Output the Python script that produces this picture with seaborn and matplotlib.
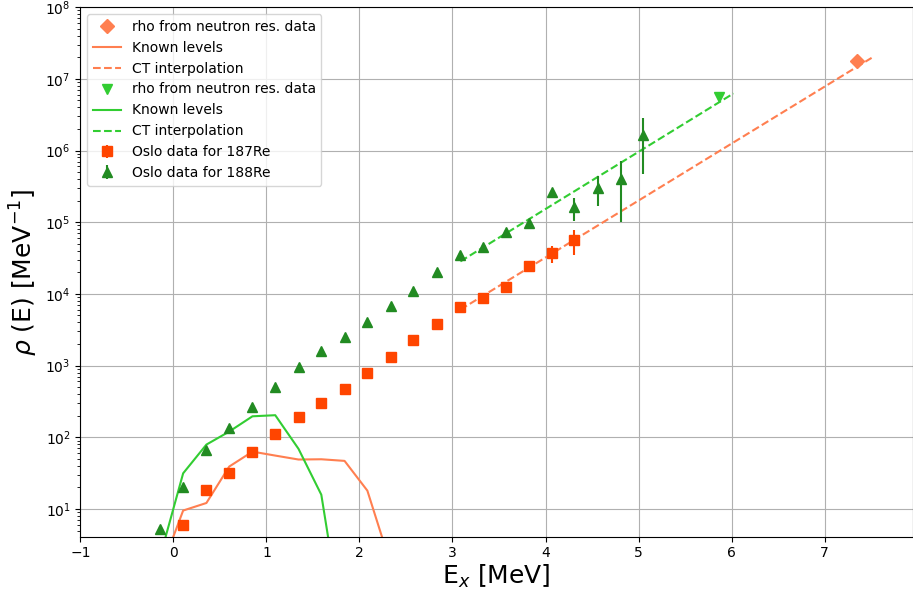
import numpy as np
import matplotlib
matplotlib.use("Agg")
import matplotlib.pyplot as plt
import seaborn as sns
import pandas as pd

# ---------------- data ----------------
# Oslo data 187Re
ex187 = [0.105, 0.355, 0.60, 0.85, 1.095, 1.345, 1.59, 1.84, 2.085, 2.335, 2.58, 2.83,
         3.08, 3.33, 3.575, 3.82, 4.07, 4.31]
rho187 = [6.0, 18.4, 32.1, 63, 111, 190, 296, 474, 776, 1300, 2290, 3840,
          6480, 8650, 12300, 24200, 36800, 55800]
err187 = [0.6, 1.6, 2.5, 4.5, 7, 11, 16, 25, 40, 70, 120, 200,
          350, 500, 800, 2000, 9500, 21000]

# Oslo data 188Re
ex188 = [-0.145, 0.105, 0.355, 0.60, 0.85, 1.095, 1.345, 1.59, 1.84, 2.085, 2.335,
         2.58, 2.83, 3.08, 3.33, 3.575, 3.82, 4.07, 4.31, 4.56, 4.81, 5.05]
rho188 = [5.26, 20.0, 66.7, 135, 268, 499, 946, 1590, 2490, 3990, 6680,
          10900, 19900, 35200, 45100, 72300, 97600, 264000, 163000, 304000, 406000, 1640000]
err188 = [0.5, 1.5, 4, 7, 12, 20, 35, 60, 100, 160, 280,
          450, 900, 1800, 2500, 4500, 7000, 20000, 58000, 135000, 305000, 1170000]

# Known levels
lev_x = [-0.145, 0.105, 0.355, 0.60, 0.85, 1.095, 1.345, 1.59, 1.84, 2.085, 2.335]
lev187 = [1.3, 9.5, 12.1, 39, 63, 55.5, 48.9, 49.3, 46.8, 18, 1.7]
lev188 = [2.1, 31.4, 79, 120, 196, 203, 68.9, 15.8, 0.15, 0.15, 0.15]

# CT interpolation (end points of the straight log-lines)
ct187_x = [3.085, 7.505]
ct187_y = [6030, 1.96e7]
ct188_x = [3.085, 6.02]
ct188_y = [28400, 6.25e6]

# rho from neutron resonance data
rhon187_x = [7.35]
rhon187_y = [1.77e7]
rhon188_x = [5.86]
rhon188_y = [5.6e6]

# tick positions
xticks = [-1, 0, 1, 2, 3, 4, 5, 6, 7]
yticks = [1e1, 1e2, 1e3, 1e4, 1e5, 1e6, 1e7, 1e8]

# ---------------- plot ----------------
fig = plt.figure(figsize=(9.13, 5.95), dpi=100)
ax = fig.add_axes([0.088, 0.098, 0.912, 0.89])
ax.set_yscale("log")

ax.plot(rhon187_x, rhon187_y, marker="D", color="coral", linestyle="none",
        markersize=7, label="rho from neutron res. data")
sns.lineplot(x=lev_x, y=lev187, ax=ax, color="coral", sort=False, estimator=None,
             label="Known levels", linewidth=1.5)
sns.lineplot(x=ct187_x, y=ct187_y, ax=ax, color="coral", sort=False, estimator=None,
             linestyle="--", label="CT interpolation", linewidth=1.5)
ax.plot(rhon188_x, rhon188_y, marker="v", color="limegreen", linestyle="none",
        markersize=7, label="rho from neutron res. data")
sns.lineplot(x=lev_x, y=lev188, ax=ax, color="limegreen", sort=False, estimator=None,
             label="Known levels", linewidth=1.5)
sns.lineplot(x=ct188_x, y=ct188_y, ax=ax, color="limegreen", sort=False, estimator=None,
             linestyle="--", label="CT interpolation", linewidth=1.5)

ax.errorbar(ex187, rho187, yerr=err187, fmt="s", color="orangered", markersize=6.5,
            elinewidth=1.5, label="Oslo data for 187Re")
ax.errorbar(ex188, rho188, yerr=err188, fmt="^", color="forestgreen", markersize=6.5,
            elinewidth=1.5, label="Oslo data for 188Re")

ax.set_xlim(-1, 7.95)
ax.set_ylim(4.1, 1e8)
ax.set_xticks(xticks)
ax.set_yticks(yticks)
ax.grid(True, which="major", color="#b0b0b0", linewidth=0.8)
ax.set_axisbelow(True)

ax.set_xlabel(r"E$_x$ [MeV]", fontsize=18, labelpad=2)
ax.set_ylabel(r"$\rho$ (E) [MeV$^{-1}$]", fontsize=18)
ax.tick_params(labelsize=10)

ax.legend(loc="upper left", fontsize=10, framealpha=0.8)

fig.savefig("out.png", dpi=100)
